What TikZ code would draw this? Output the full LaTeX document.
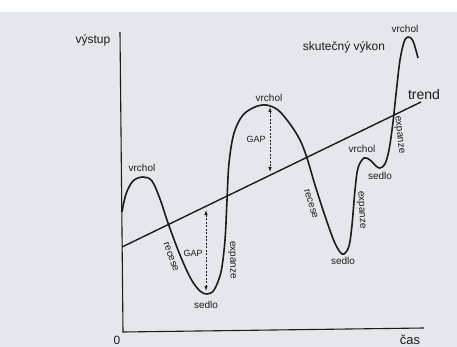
\documentclass[tikz,border=0pt]{standalone}
\usepackage{fontspec}
\setmainfont{Liberation Sans}
\usetikzlibrary{arrows.meta}
\definecolor{paper}{RGB}{228,232,236}
\definecolor{ink}{RGB}{28,28,30}
\begin{document}
\begin{tikzpicture}[x=1pt,y=-1pt,
  lbl/.style={font=\fontsize{12}{14}\selectfont, text=ink, inner sep=0pt},
  small/.style={font=\fontsize{10}{12}\selectfont, text=ink, inner sep=0pt},
  axisline/.style={draw=ink, line width=1.1pt},
  trendline/.style={draw=ink, line width=1.4pt},
  curveline/.style={draw=ink, line width=1.6pt},
  gaparrow/.style={draw=ink, line width=0.8pt, dash pattern=on 2pt off 1.5pt,
    {Latex[length=5pt,width=3.5pt]}-{Latex[length=5pt,width=3.5pt]}}]
\useasboundingbox (0,0) rectangle (457,347);
\fill[white] (0,0) rectangle (457,12);
\fill[paper] (0,12) rectangle (457,347);

% axes
\coordinate (ytop) at (120,32);
\coordinate (origin) at (123,332);
\coordinate (xend) at (424,328);
\draw[axisline] (ytop) -- (origin) -- (xend);
\node[lbl] (vystup) at (93,40) {výstup};
\node[lbl] (zero) at (117,340) {0};
\node[lbl, font=\fontsize{13}{15}\selectfont] (cas) at (410,340) {čas};

% trend
\coordinate (tstart) at (122,247);
\coordinate (tend) at (421,102);
\draw[trendline] (tstart) -- (tend);
\node[lbl, font=\fontsize{14}{16}\selectfont] (trend) at (424,94) {trend};

% actual performance curve
\draw[curveline] plot[smooth, tension=0.55] coordinates {
 (122,212) (126,194) (133,181) (143,177) (152,181) (160,199) (168,223)
 (180,255) (191,279) (200,291) (207,294) (214,290) (221,272) (225,240)
 (227,200) (229,163) (234,133) (243,115) (255,107) (266,105) (278,110)
 (290,124) (300,140) (307,158) (315,185) (325,216) (334,241) (340,252)
 (344,254) (349,246) (352,225) (355,190) (358,168) (364,158) (370,160)
 (376,166) (380,168) (385,164) (389,150) (392,130) (394,113) (397,85)
 (400,60) (404,42) (408,37) (413,41) (418,58)};
\node[lbl] (skutecny) at (344,47) {skutečný výkon};

% labels on curve
\node[small] (vrchol1) at (142,168) {vrchol};
\node[small] (vrchol2) at (269,98) {vrchol};
\node[small] (vrchol3) at (362,149) {vrchol};
\node[small] (vrchol4) at (405,29) {vrchol};
\node[small] (sedlo1) at (206,305) {sedlo};
\node[small] (sedlo2) at (343,261) {sedlo};
\node[small] (sedlo3) at (380,176) {sedlo};
\node[small, rotate=-70] (recese1) at (171,257) {recese};
\node[small, rotate=-72] (recese2) at (311,204) {recese};
\node[small, rotate=-89] (expanze1) at (232,260) {expanze};
\node[small, rotate=-87] (expanze2) at (361,210) {expanze};
\node[small, rotate=-84] (expanze3) at (399,135) {expanze};

% GAP arrows
\coordinate (g1top) at (206,210);
\coordinate (g1bot) at (206,291);
\draw[gaparrow] (g1top) -- (g1bot);
\node[small, font=\fontsize{9}{11}\selectfont] (gap1) at (193,253) {GAP};
\coordinate (g2top) at (270,107);
\coordinate (g2bot) at (270,172);
\draw[gaparrow] (g2top) -- (g2bot);
\node[small, font=\fontsize{9}{11}\selectfont] (gap2) at (256,139) {GAP};
\end{tikzpicture}
\end{document}
